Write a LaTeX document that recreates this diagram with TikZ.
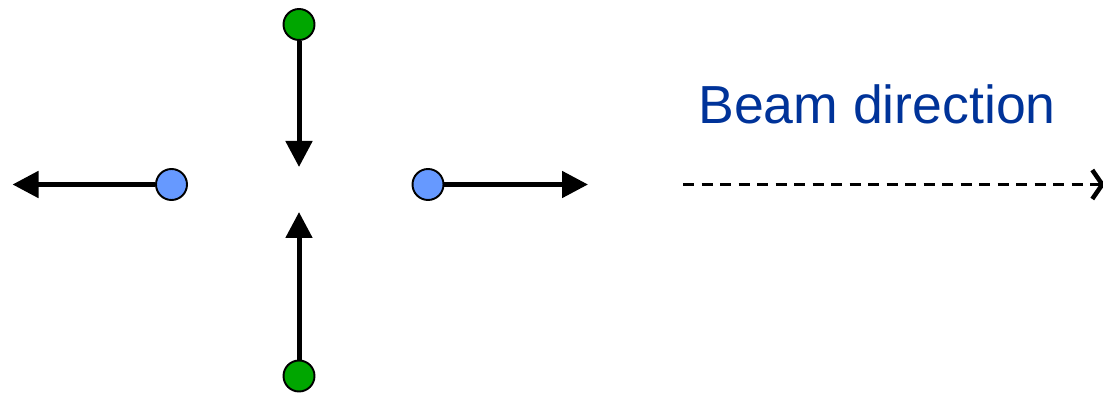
\documentclass[tikz,border=0pt]{standalone}
\usepackage{fontspec}
\setmainfont{Liberation Sans}
\usetikzlibrary{arrows.meta}
\definecolor{dotgreen}{RGB}{0,166,0}
\definecolor{dotblue}{RGB}{102,153,255}
\definecolor{beamblue}{RGB}{0,51,153}
\tikzset{
  ion/.style={circle,draw=black,line width=1.1pt,minimum size=0.62cm,inner sep=0pt},
  push/.style={line width=0.1cm,-{Triangle[length=0.52cm,width=0.52cm]}},
  beam/.style={line width=0.07cm,dash pattern=on 0.22cm off 0.15cm,
    -{Straight Barb[length=0.2cm,width=0.58cm,line width=0.09cm]}}
}
\begin{document}
\begin{tikzpicture}
\useasboundingbox (0,0) rectangle (22.06,-7.86);
% particles
\node[ion,fill=dotgreen] (top) at (5.98,-0.49) {};
\node[ion,fill=dotgreen] (bottom) at (5.98,-7.52) {};
\node[ion,fill=dotblue] (left) at (3.43,-3.69) {};
\node[ion,fill=dotblue] (right) at (8.56,-3.69) {};
% arrow tips
\coordinate (topTip) at (5.98,-3.34);
\coordinate (bottomTip) at (5.98,-4.24);
\coordinate (leftTip) at (0.25,-3.69);
\coordinate (rightTip) at (11.76,-3.69);
\draw[push] (top) -- (topTip);
\draw[push] (bottom) -- (bottomTip);
\draw[push] (left) -- (leftTip);
\draw[push] (right) -- (rightTip);
% beam
\coordinate (beamStart) at (13.66,-3.69);
\coordinate (beamEnd) at (22.1,-3.69);
\draw[beam] (beamStart) -- (beamEnd);
\node[text=beamblue,font=\fontsize{30.5}{36}\selectfont] (beamLabel) at (17.54,-2.08) {Beam direction};
\end{tikzpicture}
\end{document}
